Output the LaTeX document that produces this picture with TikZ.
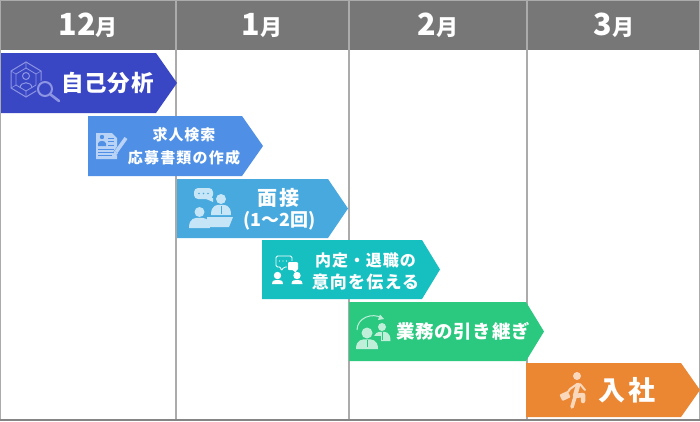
\documentclass[tikz,border=0pt]{standalone}
\usepackage{fontspec}
\setmainfont{Noto Sans CJK JP}
\definecolor{hdr}{HTML}{777777}
\definecolor{gridc}{HTML}{ABABAB}
\definecolor{cA}{HTML}{3A47C5}\definecolor{iA}{HTML}{8D96E2}
\definecolor{cB}{HTML}{4F90E6}\definecolor{iB}{HTML}{B9D3F6}
\definecolor{cC}{HTML}{47A9DD}\definecolor{iC}{HTML}{C6E5F6}
\definecolor{cD}{HTML}{16BFC0}
\definecolor{cE}{HTML}{2BC880}\definecolor{iE}{HTML}{BFEFD9}
\definecolor{cF}{HTML}{EB8633}\definecolor{iF}{HTML}{F9D8BC}
\newcommand{\icperson}[6]{% x y headr halfwidth bottom color
  \fill[#6] (#1,#2) circle (#3);
  \fill[#6] ({#1-#4},#5) .. controls ({#1-#4},{#2+#3+0.5}) and ({#1-#4*0.4},{#2+#3+0.8}) .. (#1,{#2+#3+0.8})
     .. controls ({#1+#4*0.4},{#2+#3+0.8}) and ({#1+#4},{#2+#3+0.5}) .. ({#1+#4},#5) -- cycle;}
\tikzset{
  hlabel/.style={text=white,font=\bfseries,inner sep=0pt,anchor=center},
  mlabel/.style={text=white,font=\bfseries,inner sep=0pt,anchor=center,align=center},
  gridline/.style={draw=gridc,line width=2pt},
}
\begin{document}
\begin{tikzpicture}[x=1pt,y=-1pt]
\useasboundingbox (0,0) rectangle (700,421);
\fill[white] (0,0) rectangle (700,421);
% header
\fill[hdr] (0,0) rectangle (700,50);
\fill[gridc] (0,0) rectangle (700,1);
% grid
\draw[gridline] (175.5,0) -- (175.5,420);
\draw[gridline] (348.5,0) -- (348.5,420);
\draw[gridline] (526.5,0) -- (526.5,420);
\draw[gridline] (699.5,0) -- (699.5,420);
\draw[gridc,line width=1pt] (0.5,0) -- (0.5,420);
\fill[hdr!90!white] (0,419) rectangle (700,421);
% header labels
\node[hlabel] (m12) at (88,25) {\fontsize{30.5}{30}\selectfont 12\fontsize{22}{22}\selectfont 月};
\node[hlabel] (m1) at (262,25) {\fontsize{30.5}{30}\selectfont 1\fontsize{22}{22}\selectfont 月};
\node[hlabel] (m2) at (438,25) {\fontsize{30.5}{30}\selectfont 2\fontsize{22}{22}\selectfont 月};
\node[hlabel] (m3) at (614,25) {\fontsize{30.5}{30}\selectfont 3\fontsize{22}{22}\selectfont 月};
% arrows
\fill[cA] (1,53) -- (156,53) -- (177,83) -- (156,113) -- (1,113) -- cycle;
\fill[cB] (88,116) -- (242,116) -- (263,146) -- (242,176) -- (88,176) -- cycle;
\fill[cC] (177,179) -- (328,179) -- (348,208.5) -- (328,238) -- (177,238) -- cycle;
\fill[cD] (262,240) -- (422,240) -- (440,269.5) -- (422,299) -- (262,299) -- cycle;
\fill[cE] (349,302) -- (526,302) -- (544,331.5) -- (526,361) -- (349,361) -- cycle;
\fill[cF] (526,363) -- (681,363) -- (700,390) -- (681,417) -- (526,417) -- cycle;
% labels
\node[mlabel] (a) at (107.5,83) {\fontsize{22.5}{22}\selectfont\addfontfeature{LetterSpace=4}自己分析};
\node[mlabel] (b1) at (184,135) {\fontsize{15}{15}\selectfont\addfontfeature{LetterSpace=6}求人検索};
\node[mlabel] (b2) at (184,158) {\fontsize{15}{15}\selectfont\addfontfeature{LetterSpace=8}応募書類の作成};
\node[mlabel] (c1) at (278.5,198) {\fontsize{20}{20}\selectfont\addfontfeature{LetterSpace=6}面接};
\node[mlabel] (c2) at (279.5,221) {\fontsize{18}{18}\selectfont (1〜2回)};
\node[mlabel] (d1) at (365.5,260) {\fontsize{16}{16}\selectfont\addfontfeature{LetterSpace=6}内定・退職の};
\node[mlabel] (d2) at (365.5,282) {\fontsize{17}{17}\selectfont\addfontfeature{LetterSpace=7}意向を伝える};
\node[mlabel] (e) at (463,331) {\fontsize{18.5}{18}\selectfont\addfontfeature{LetterSpace=4}業務の引き継ぎ};
\node[mlabel] (f) at (627,390) {\fontsize{27}{27}\selectfont\addfontfeature{LetterSpace=8}入社};
% icon A
\begin{scope}[iA]
\draw[line width=1pt] (26,62) -- (41,71) -- (41,88) -- (26,97) -- (11,88) -- (11,71) -- cycle;
\draw[line width=0.8pt] (26,68) -- (36,74) -- (36,85) -- (26,91) -- (16,85) -- (16,74) -- cycle;
\draw[line width=0.6pt] (26,62) -- (26,68) (41,71) -- (36,74) (11,71) -- (16,74) (11,88) -- (16,85) (26,97) -- (26,91);
\draw[line width=1pt] (26,76) circle (3.5);
\draw[line width=1pt] (20,88) .. controls (20,81) and (32,81) .. (32,88);
\fill[cA] (45,89) circle (9);
\draw[line width=2pt] (45,89) circle (7);
\draw[line width=2.6pt,line cap=round] (50.5,94.5) -- (59,101);
\end{scope}
% icon B
\fill[iB] (96,133) -- (112,133) -- (117,138) -- (117,159) -- (96,159) -- cycle;
\fill[cB] (102,137) circle (2.2);
\fill[cB] (98,146) -- (98,143.5) .. controls (99,140) and (105,140) .. (106,143.5) -- (106,146) -- cycle;
\draw[cB,line width=0.8pt] (108,138) -- (114,138) (108,141.5) -- (114,141.5) (108,145) -- (114,145) (98,149) -- (114,149) (98,152) -- (114,152) (98,155) -- (112,155);
\draw[cB,line width=5pt] (127,137) -- (115,154);
\draw[iB,line width=3.6pt] (126,138) -- (116,152);
\fill[iB] (114.2,151) -- (118,153.6) -- (113.5,157) -- cycle;
% icon C
\fill[iC,rounded corners=4pt] (194,188) rectangle (213,199);
\fill[iC] (204,198) -- (213,198) -- (213,202) -- cycle;
\fill[cC] (199,193.5) circle (0.8) (203.5,193.5) circle (0.8) (208,193.5) circle (0.8);
\icperson{221}{199}{5}{10}{215}{iC}
\draw[cC,line width=1pt] (221,206) -- (221,214);
\fill[iC] (207,217) -- (233,217) -- (229,227) -- (207,227) -- cycle;
\fill[cC] (204,216) rectangle (207,229);
\icperson{199.5}{212}{5}{10.5}{228}{iC}
% icon D
\draw[white,line width=0.8pt,rounded corners=1.5pt] (276,256) -- (292,256) -- (292,267) -- (284,267) -- (281,271) -- (281,267) -- (276,267) -- cycle;
\fill[cD] (287,261) rectangle (299,272);
\fill[white,rounded corners=1pt] (288,262) -- (298,262) -- (298,270) -- (296,270) -- (296,273) -- (293,270) -- (288,270) -- cycle;
\fill[white] (279.5,261) circle (0.7) (283,261) circle (0.7) (286.5,261) circle (0.7);
\icperson{277.5}{275.5}{3.7}{5.5}{284}{white}
\icperson{297}{275.5}{3.7}{5.5}{284}{white}
% icon E
\draw[iE,line width=1pt] (357,330) .. controls (357,318) and (372,312) .. (382,318);
\fill[iE] (384,319) -- (378,320) -- (380,314.5) -- cycle;
\icperson{382}{327}{4}{8.5}{341}{iE}
\draw[cE,line width=1pt] (382,332) -- (382,340);
\fill[cE] (367,333) circle (7);
\fill[cE] (355,349) rectangle (381,336);
\icperson{367}{333}{5.5}{11}{349}{iE}
\draw[cE,line width=1pt] (367,340) -- (367,347);
% icon F
\fill[iF] (577,376) circle (4);
\draw[iF,line width=4.5pt,line cap=round,line join=round] (578,385) -- (575,396) -- (583,395) -- (583,401);
\draw[iF,line width=3.6pt,line cap=round] (575,397) -- (572,407);
\draw[iF,line width=2pt,line cap=round,line join=round] (577,384) -- (570,389) -- (568,392);
\draw[iF,line width=2pt,line cap=round] (580,384) -- (585,390);
\fill[iF,rotate around={25:(565,396)},rounded corners=1pt] (560.5,392.5) rectangle (569.5,399.5);
\end{tikzpicture}
\end{document}
